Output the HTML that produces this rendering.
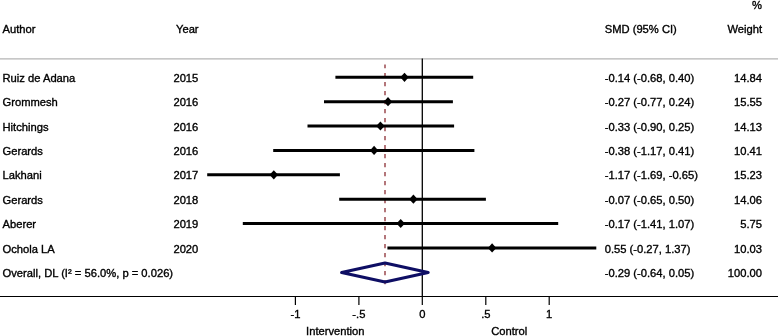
<!DOCTYPE html>
<html><head><meta charset="utf-8"><title>Forest plot</title>
<style>
html,body{margin:0;padding:0;background:#fff;}
svg{display:block;}
text{font-family:"Liberation Sans",sans-serif;font-size:11.2px;fill:#000;stroke:#000;stroke-width:0.35px;}
</style></head><body>
<svg width="778" height="336" viewBox="0 0 778 336">
<rect width="778" height="336" fill="#fff"/>

<text x="762" y="8.8" text-anchor="end">%</text>
<text x="2.5" y="33.1">Author</text>
<text x="198.6" text-anchor="end" y="33.1">Year</text>
<text x="604.7" y="33.1">SMD (95% CI)</text>
<text x="762" y="33.1" text-anchor="end">Weight</text>
<line x1="0" y1="58.95" x2="778" y2="58.95" stroke="#b4b4b4" stroke-width="1.2"/>
<line x1="422.3" y1="58.5" x2="422.3" y2="296.5" stroke="#000" stroke-width="1.3"/>
<line x1="385" y1="64.4" x2="385" y2="284.3" stroke="#90353b" stroke-width="1.35" stroke-dasharray="4.3,4.7" stroke-dashoffset="0.5"/>
<text x="2.5" y="81.9">Ruiz de Adana</text>
<text x="198.3" y="81.9" text-anchor="end">2015</text>
<line x1="335.4" y1="77.3" x2="473.2" y2="77.3" stroke="#000" stroke-width="2.95"/>
<path d="M400.3 77.3L404.5 72.7L408.7 77.3L404.5 81.9Z" fill="#000"/>
<text x="604.7" y="81.9">-0.14 (-0.68, 0.40)</text>
<text x="762" y="81.9" text-anchor="end">14.84</text>
<text x="2.5" y="106.3">Grommesh</text>
<text x="198.3" y="106.3" text-anchor="end">2016</text>
<line x1="324.0" y1="101.7" x2="452.9" y2="101.7" stroke="#000" stroke-width="2.95"/>
<path d="M383.8 101.7L388.0 97.1L392.2 101.7L388.0 106.3Z" fill="#000"/>
<text x="604.7" y="106.3">-0.27 (-0.77, 0.24)</text>
<text x="762" y="106.3" text-anchor="end">15.55</text>
<text x="2.5" y="130.6">Hitchings</text>
<text x="198.3" y="130.6" text-anchor="end">2016</text>
<line x1="307.5" y1="126.0" x2="454.1" y2="126.0" stroke="#000" stroke-width="2.95"/>
<path d="M376.2 126.0L380.4 121.4L384.6 126.0L380.4 130.6Z" fill="#000"/>
<text x="604.7" y="130.6">-0.33 (-0.90, 0.25)</text>
<text x="762" y="130.6" text-anchor="end">14.13</text>
<text x="2.5" y="155.0">Gerards</text>
<text x="198.3" y="155.0" text-anchor="end">2016</text>
<line x1="273.2" y1="150.4" x2="474.4" y2="150.4" stroke="#000" stroke-width="2.95"/>
<path d="M369.9 150.4L374.1 145.8L378.3 150.4L374.1 155.0Z" fill="#000"/>
<text x="604.7" y="155.0">-0.38 (-1.17, 0.41)</text>
<text x="762" y="155.0" text-anchor="end">10.41</text>
<text x="2.5" y="179.4">Lakhani</text>
<text x="198.3" y="179.4" text-anchor="end">2017</text>
<line x1="207.2" y1="174.8" x2="339.9" y2="174.8" stroke="#000" stroke-width="2.95"/>
<path d="M269.6 174.8L273.8 170.2L278.0 174.8L273.8 179.4Z" fill="#000"/>
<text x="604.7" y="179.4">-1.17 (-1.69, -0.65)</text>
<text x="762" y="179.4" text-anchor="end">15.23</text>
<text x="2.5" y="203.8">Gerards</text>
<text x="198.3" y="203.8" text-anchor="end">2018</text>
<line x1="339.2" y1="199.2" x2="485.9" y2="199.2" stroke="#000" stroke-width="2.95"/>
<path d="M409.2 199.2L413.4 194.6L417.6 199.2L413.4 203.8Z" fill="#000"/>
<text x="604.7" y="203.8">-0.07 (-0.65, 0.50)</text>
<text x="762" y="203.8" text-anchor="end">14.06</text>
<text x="2.5" y="228.1">Aberer</text>
<text x="198.3" y="228.1" text-anchor="end">2019</text>
<line x1="242.8" y1="223.5" x2="558.2" y2="223.5" stroke="#000" stroke-width="2.95"/>
<path d="M396.5 223.5L400.7 218.9L404.9 223.5L400.7 228.1Z" fill="#000"/>
<text x="604.7" y="228.1">-0.17 (-1.41, 1.07)</text>
<text x="762" y="228.1" text-anchor="end">5.75</text>
<text x="2.5" y="252.5">Ochola LA</text>
<text x="198.3" y="252.5" text-anchor="end">2020</text>
<line x1="387.4" y1="247.9" x2="596.3" y2="247.9" stroke="#000" stroke-width="2.95"/>
<path d="M487.9 247.9L492.1 243.3L496.3 247.9L492.1 252.5Z" fill="#000"/>
<text x="604.7" y="252.5">0.55 (-0.27, 1.37)</text>
<text x="762" y="252.5" text-anchor="end">10.03</text>
<text x="2.5" y="276.9">Overall, DL (I² = 56.0%, p = 0.026)</text>
<text x="604.7" y="276.9">-0.29 (-0.64, 0.05)</text>
<text x="762" y="276.9" text-anchor="end">100.00</text>
<path d="M341.6 272.5L385.0 263.1L428.2 272.5L385.0 281.9Z" fill="none" stroke="#0e0e64" stroke-width="3.1" stroke-linejoin="round"/>
<line x1="0" y1="296.5" x2="778" y2="296.5" stroke="#000" stroke-width="1.2"/>
<line x1="295.4" y1="296.5" x2="295.4" y2="305" stroke="#000" stroke-width="1.2"/>
<text x="295.4" y="318" text-anchor="middle">-1</text>
<line x1="358.9" y1="296.5" x2="358.9" y2="305" stroke="#000" stroke-width="1.2"/>
<text x="358.9" y="318" text-anchor="middle">-.5</text>
<line x1="422.3" y1="296.5" x2="422.3" y2="305" stroke="#000" stroke-width="1.2"/>
<text x="422.3" y="318" text-anchor="middle">0</text>
<line x1="485.8" y1="296.5" x2="485.8" y2="305" stroke="#000" stroke-width="1.2"/>
<text x="485.8" y="318" text-anchor="middle">.5</text>
<line x1="549.2" y1="296.5" x2="549.2" y2="305" stroke="#000" stroke-width="1.2"/>
<text x="549.2" y="318" text-anchor="middle">1</text>
<text x="335.3" y="335.4" text-anchor="middle">Intervention</text>
<text x="509.2" y="335.4" text-anchor="middle">Control</text>
</svg></body></html>
